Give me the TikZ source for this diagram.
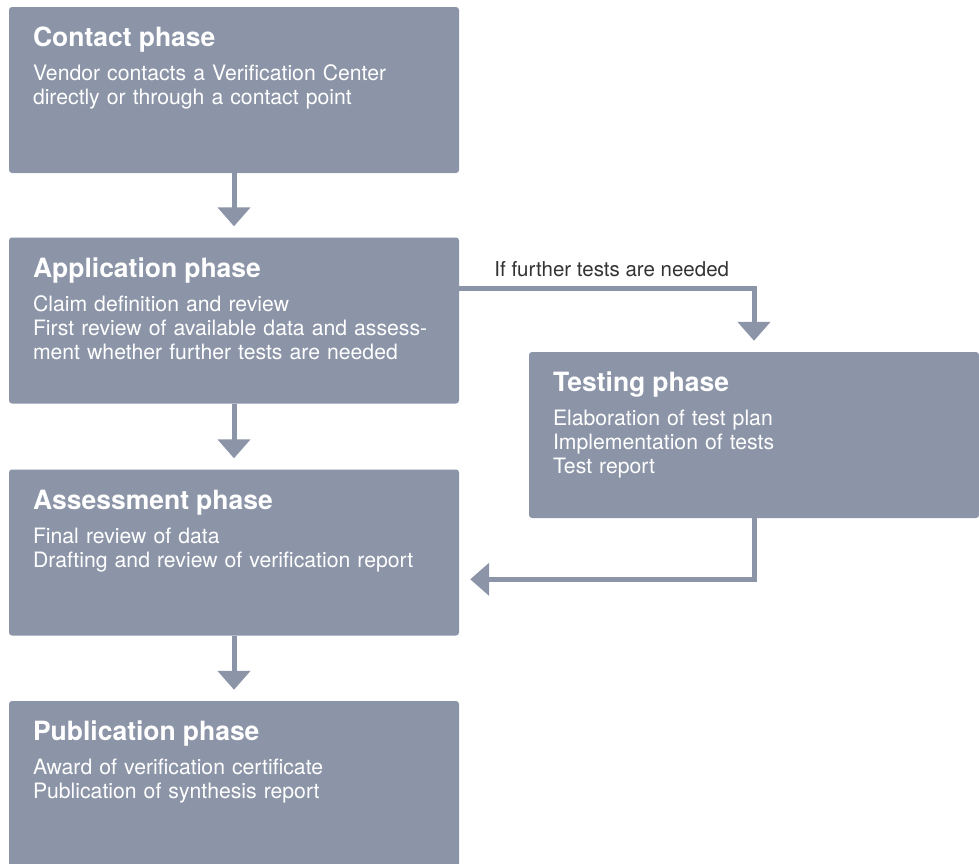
\documentclass[tikz,border=0pt]{standalone}
\usepackage{fontspec}
\setmainfont{TeX Gyre Heros}
\usetikzlibrary{arrows.meta}
\definecolor{slate}{RGB}{140,149,168}
\newcommand{\phasetitle}[1]{{\fontsize{26.5}{24}\selectfont\bfseries #1}}

\begin{document}
\begin{tikzpicture}[x=1pt, y=1pt,
    phase/.style={fill=slate, rounded corners=3pt, minimum width=450pt,
                  minimum height=166pt, inner sep=0pt},
    ptxt/.style={anchor=base west, text=white, inner sep=0pt, text width=425pt,
                 align=left, font=\fontsize{21.2}{24}\selectfont},
    arr/.style={draw=slate, line width=5pt, -{Triangle[width=32pt,length=19pt]},
                shorten >=11pt}
  ]
  \useasboundingbox (0,0) rectangle (979,-863);
  \node[phase] (con)  at (234,-90)    {};
  \node[phase] (app)  at (234,-320.5) {};
  \node[phase] (ass)  at (234,-552.5) {};
  \node[phase] (pub)  at (234,-784)   {};
  \node[phase] (tst)  at (754,-435)   {};

  \node[ptxt] (contxt) at ([shift={(24,-40)}]con.north west)
    {\phasetitle{Contact phase}\\[10pt]Vendor contacts a Verification Center\\directly or through a contact point};
  \node[ptxt] (apptxt) at ([shift={(24,-40)}]app.north west)
    {\phasetitle{Application phase}\\[10pt]Claim definition and review\\First review of available data and assess-\\ment whether further tests are needed};
  \node[ptxt] (asstxt) at ([shift={(24,-40)}]ass.north west)
    {\phasetitle{Assessment phase}\\[10pt]Final review of data\\Drafting and review of verification report};
  \node[ptxt] (pubtxt) at ([shift={(24,-40)}]pub.north west)
    {\phasetitle{Publication phase}\\[10pt]Award of verification certificate\\Publication of synthesis report};
  \node[ptxt] (tsttxt) at ([shift={(24,-40)}]tst.north west)
    {\phasetitle{Testing phase}\\[10pt]Elaboration of test plan\\Implementation of tests\\Test report};

  \coordinate (fork)  at ([yshift=-51]app.north east);
  \coordinate (merge) at ([yshift=-110]ass.north east);

  \draw[arr] (con) -- (app);
  \draw[arr] (app) -- (ass);
  \draw[arr] (ass) -- (pub);
  \draw[arr] (fork) -| (tst);
  \draw[arr] (tst) |- (merge);

  \node[anchor=base west, inner sep=0pt, font=\fontsize{20.5}{24}\selectfont, text=black!80]
    (iflbl) at ([shift={(35,12)}]fork) {If further tests are needed};
\end{tikzpicture}
\end{document}
